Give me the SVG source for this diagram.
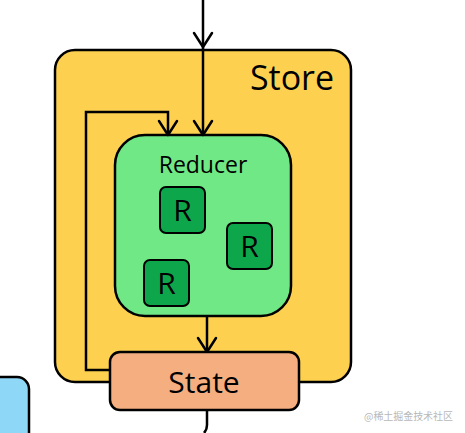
<svg xmlns="http://www.w3.org/2000/svg" width="465" height="433" viewBox="0 0 465 433">
<style>
.box{stroke:#000;stroke-width:2.5}
.lbl{font-family:"Open Sans","Liberation Sans",sans-serif;fill:#000;text-anchor:middle}
.rb{stroke:#000;stroke-width:2;fill:#0EA64A}
.rt{font-family:"Open Sans","Liberation Sans",sans-serif;fill:#000;text-anchor:middle;font-size:30px}
.wire{fill:none;stroke:#000;stroke-width:2.5}
.head{fill:none;stroke:#000;stroke-width:2.5;stroke-linecap:round;stroke-linejoin:round}
</style>
<rect width="465" height="433" fill="#fff"/>
<g id="side">
<rect class="box" x="-15" y="377" width="44" height="80" rx="12" fill="#8FD7F7"/>
</g>
<g id="store">
<rect class="box" x="55" y="50" width="296" height="332" rx="20" fill="#FDD14F"/>
<text class="lbl" x="292" y="90" font-size="34">Store</text>
</g>
<g id="reducer">
<rect class="box" x="115" y="135" width="176" height="181" rx="30" fill="#70E886"/>
<text class="lbl" x="203" y="173" font-size="23">Reducer</text>
</g>
<g id="r1">
<rect class="rb" x="160" y="187" width="45" height="46" rx="6"/>
<text class="rt" x="182.5" y="221">R</text>
</g>
<g id="r2">
<rect class="rb" x="227" y="223" width="45" height="46" rx="6"/>
<text class="rt" x="249.5" y="257">R</text>
</g>
<g id="r3">
<rect class="rb" x="144" y="260" width="45" height="46" rx="6"/>
<text class="rt" x="166.5" y="294">R</text>
</g>
<g id="connectors">
<path class="wire" d="M203 0V135"/>
<path class="head" d="M194 33L203 47L212 33"/>
<path class="head" d="M194 121L203 135L212 121"/>
<path class="wire" d="M110 370H86V112H168V135"/>
<path class="head" d="M159 121L168 135L177 121"/>
<path class="wire" d="M207 316V352"/>
<path class="head" d="M198 338L207 352L216 338"/>
<path class="wire" d="M207 410V425Q207 430 204 433"/>
</g>
<g id="state">
<rect class="box" x="110" y="352" width="189" height="58" rx="10" fill="#F4AE80"/>
<text class="lbl" x="204" y="393" font-size="30">State</text>
</g>
<text x="364" y="420" font-family="'Noto Sans CJK SC',sans-serif" font-size="10" textLength="89" fill="#b8b8b8">@稀土掘金技术社区</text>
</svg>
